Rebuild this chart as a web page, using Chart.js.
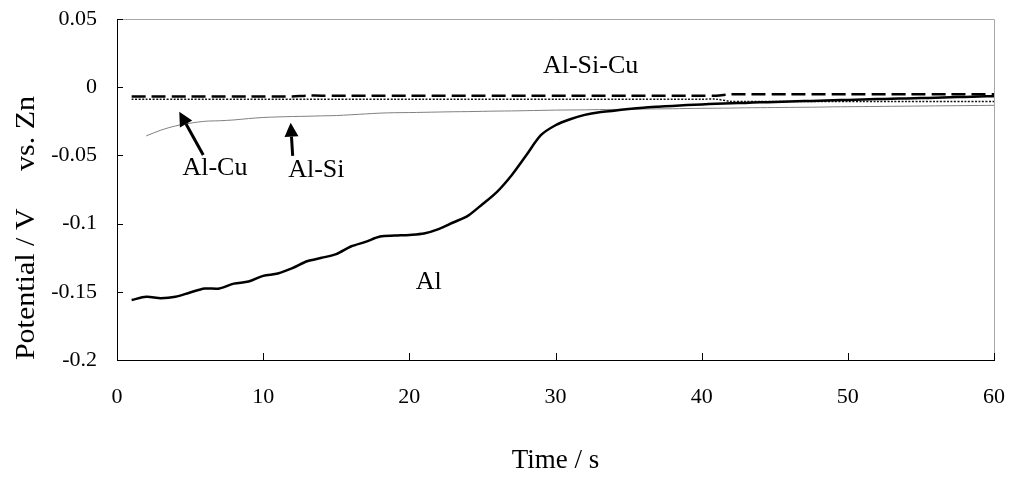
<!DOCTYPE html>
<html>
<head>
<meta charset="utf-8">
<script src="https://cdn.jsdelivr.net/npm/chart.js@4/dist/chart.umd.min.js"></script>
<style>
  html, body { margin: 0; padding: 0; background: #fff; }
  #wrap { width: 1014px; height: 478px; }
</style>
</head>
<body>
<div id="wrap"><canvas id="chartPotencial" width="1014" height="478"></canvas></div>
<script>
// tiempo (s)
const tiempos = [1,2,3,4,5,6,7,8,9,10,11,12,13,14,15,16,17,18,19,20,
  21,22,23,24,25,26,27,28,29,30,31,32,33,34,35,36,37,38,39,40,
  41,42,43,44,45,46,47,48,49,50,51,52,53,54,55,56,57,58,59,60];

// potencial (V vs. Zn) de cada aleación
const potAl = [-0.156,-0.1537,-0.1547,-0.1537,-0.1505,-0.1476,-0.1476,-0.144,-0.1425,-0.1383,
  -0.1366,-0.1327,-0.1276,-0.1251,-0.1224,-0.1168,-0.1134,-0.1095,-0.1088,-0.1083,
  -0.1073,-0.1041,-0.0992,-0.0943,-0.0858,-0.0767,-0.0645,-0.0499,-0.0352,-0.0279,
  -0.0235,-0.0203,-0.0183,-0.0172,-0.016,-0.015,-0.0143,-0.0137,-0.0131,-0.0126,
  -0.0122,-0.0118,-0.0115,-0.0111,-0.0108,-0.0105,-0.0102,-0.0099,-0.0096,-0.0093,
  -0.009,-0.0087,-0.0085,-0.0082,-0.008,-0.0077,-0.0074,-0.0071,-0.0068,-0.0066];

const potAlSi = [null,-0.0357,-0.0315,-0.0284,-0.0264,-0.025,-0.0246,-0.024,-0.023,-0.0222,
  -0.0218,-0.0215,-0.0213,-0.021,-0.0208,-0.0202,-0.0196,-0.019,-0.0187,-0.0186,
  -0.0184,-0.0182,-0.018,-0.0179,-0.0177,-0.0175,-0.0174,-0.0172,-0.017,-0.0168,
  -0.0167,-0.0166,-0.0164,-0.0163,-0.0162,-0.016,-0.0159,-0.0158,-0.0156,-0.0155,
  -0.0154,-0.0153,-0.0151,-0.015,-0.0149,-0.0148,-0.0147,-0.0146,-0.0144,-0.0143,
  -0.0142,-0.0141,-0.014,-0.0139,-0.0138,-0.0137,-0.0136,-0.0135,-0.0134,-0.0133];

const potAlCu = [-0.0088,-0.0088,-0.0088,-0.0088,-0.0088,-0.0088,-0.0088,-0.0088,-0.0088,-0.0088,
  -0.0088,-0.0088,-0.0088,-0.0088,-0.0088,-0.0088,-0.0088,-0.0088,-0.0088,-0.0088,
  -0.0088,-0.0088,-0.0088,-0.0088,-0.0088,-0.0088,-0.0088,-0.0088,-0.0088,-0.0088,
  -0.0088,-0.0088,-0.0088,-0.0088,-0.0088,-0.0088,-0.0088,-0.0088,-0.0088,-0.0088,
  -0.0088,-0.0104,-0.0104,-0.0104,-0.0104,-0.0104,-0.0104,-0.0104,-0.0104,-0.0104,
  -0.0104,-0.0104,-0.0104,-0.0104,-0.0104,-0.0104,-0.0104,-0.0104,-0.0104,-0.0104];

const potAlSiCu = [-0.0068,-0.0068,-0.0068,-0.0068,-0.0068,-0.0068,-0.0068,-0.0068,-0.0068,-0.0068,
  -0.0068,-0.0068,-0.0062,-0.0062,-0.0062,-0.0062,-0.0062,-0.0062,-0.0062,-0.0062,
  -0.0062,-0.0062,-0.0062,-0.0062,-0.0062,-0.0062,-0.0062,-0.0062,-0.0062,-0.0062,
  -0.0062,-0.0062,-0.0062,-0.0062,-0.0062,-0.0062,-0.0062,-0.0062,-0.0062,-0.0062,
  -0.0062,-0.0052,-0.0052,-0.0052,-0.0052,-0.0052,-0.0052,-0.0052,-0.0052,-0.0052,
  -0.0052,-0.0052,-0.0052,-0.0052,-0.0052,-0.0052,-0.0052,-0.0052,-0.0052,-0.0052];

// marcas de los ejes
const ticksX = [0, 10, 20, 30, 40, 50, 60];
const ticksY = [0.05, 0, -0.05, -0.1, -0.15, -0.2];
const etiquetasY = ['0.05', '0', '-0.05', '-0.1', '-0.15', '-0.2'];

// rótulos y flechas en coordenadas de datos (t, V)
const rotulos = [
  { texto: 'Al-Si-Cu', t: 32.4, v: 0.0106 },
  { texto: 'Al-Cu', t: 6.7, v: -0.0644 },
  { texto: 'Al-Si', t: 13.64, v: -0.0661 },
  { texto: 'Al', t: 21.33, v: -0.1482 }
];
const flechas = [
  { desde: [5.9, -0.0497], hasta: [4.26, -0.018] },
  { desde: [12.02, -0.0504], hasta: [11.88, -0.026] }
];

const FUENTE = '"Liberation Serif", "Times New Roman", serif';

function serie(valores) {
  return tiempos.map((t, i) => ({ x: t, y: valores[i] }));
}

// Marco gris, marcas interiores, rótulos, flechas y título vertical
const decoracion = {
  id: 'decoracion',
  afterDatasetsDraw(chart) {
    const ctx = chart.ctx;
    const a = chart.chartArea;
    const sx = chart.scales.x;
    const sy = chart.scales.y;
    ctx.save();

    // borde superior y derecho
    ctx.strokeStyle = '#a8a8a8';
    ctx.lineWidth = 1;
    ctx.beginPath();
    ctx.moveTo(a.left, a.top + 0.5);
    ctx.lineTo(a.right + 0.5, a.top + 0.5);
    ctx.lineTo(a.right + 0.5, a.bottom);
    ctx.stroke();

    // marcas hacia dentro
    ctx.strokeStyle = '#000';
    ctx.beginPath();
    ticksY.forEach(v => {
      const y = Math.round(sy.getPixelForValue(v)) + 0.5;
      ctx.moveTo(a.left, y);
      ctx.lineTo(a.left + 6, y);
    });
    ticksX.forEach(t => {
      const x = Math.round(sx.getPixelForValue(t)) + 0.5;
      ctx.moveTo(x, a.bottom);
      ctx.lineTo(x, a.bottom - 7);
    });
    ctx.stroke();

    // flechas
    flechas.forEach(f => {
      const x0 = sx.getPixelForValue(f.desde[0]);
      const y0 = sy.getPixelForValue(f.desde[1]);
      const x1 = sx.getPixelForValue(f.hasta[0]);
      const y1 = sy.getPixelForValue(f.hasta[1]);
      const ang = Math.atan2(y1 - y0, x1 - x0);
      const largo = 14, ancho = 7;
      const bx = x1 - largo * Math.cos(ang);
      const by = y1 - largo * Math.sin(ang);
      ctx.strokeStyle = '#000';
      ctx.lineWidth = 3;
      ctx.beginPath();
      ctx.moveTo(x0, y0);
      ctx.lineTo(bx, by);
      ctx.stroke();
      ctx.fillStyle = '#000';
      ctx.beginPath();
      ctx.moveTo(x1, y1);
      ctx.lineTo(bx + ancho * Math.sin(ang), by - ancho * Math.cos(ang));
      ctx.lineTo(bx - ancho * Math.sin(ang), by + ancho * Math.cos(ang));
      ctx.closePath();
      ctx.fill();
    });

    // rótulos de cada curva
    ctx.fillStyle = '#000';
    ctx.font = '26px ' + FUENTE;
    ctx.textAlign = 'center';
    ctx.textBaseline = 'alphabetic';
    rotulos.forEach(r => {
      ctx.fillText(r.texto, sx.getPixelForValue(r.t), sy.getPixelForValue(r.v));
    });

    // título del eje vertical
    ctx.font = '30px ' + FUENTE;
    ctx.translate(34, 228);
    ctx.rotate(-Math.PI / 2);
    ctx.scale(1, 0.9);
    ctx.textAlign = 'center';
    ctx.fillText('Potential / V\u00a0\u00a0\u00a0\u00a0 vs. Zn', 0, 0);
    ctx.restore();
  }
};

const ctx = document.getElementById('chartPotencial');
new Chart(ctx, {
  type: 'line',
  data: {
    datasets: [
      { label: 'Al-Si', data: serie(potAlSi), borderColor: '#808080', borderWidth: 1, order: 4 },
      { label: 'Al-Cu', data: serie(potAlCu), borderColor: '#111', borderWidth: 1.5, borderDash: [2, 1.5], order: 3 },
      { label: 'Al-Si-Cu', data: serie(potAlSiCu), borderColor: '#000', borderWidth: 2.5, borderDash: [14, 6], order: 2 },
      { label: 'Al', data: serie(potAl), borderColor: '#000', borderWidth: 2.5, order: 1 }
    ]
  },
  options: {
    responsive: false,
    animation: false,
    devicePixelRatio: 1,
    layout: { padding: { top: 19, right: 20, left: 0, bottom: 0 } },
    elements: {
      point: { radius: 0 },
      line: { tension: 0.3, fill: false, borderCapStyle: 'butt' }
    },
    plugins: {
      legend: { display: false },
      tooltip: { enabled: false }
    },
    scales: {
      x: {
        type: 'linear',
        min: 0,
        max: 60,
        afterBuildTicks: s => { s.ticks = ticksX.map(v => ({ value: v })); },
        afterFit: s => { s.height = 118; s.paddingLeft = 0; s.paddingRight = 0; },
        grid: { display: false, drawTicks: false },
        border: { color: '#000', width: 1 },
        ticks: { color: '#000', padding: 24, font: { family: FUENTE, size: 22 } },
        title: {
          display: true,
          text: 'Time / s',
          color: '#000',
          padding: { top: 42, bottom: 1 },
          font: { family: FUENTE, size: 27 }
        }
      },
      y: {
        min: -0.2,
        max: 0.05,
        afterBuildTicks: s => { s.ticks = ticksY.map(v => ({ value: v })); },
        afterFit: s => { s.width = 117; s.paddingTop = 0; s.paddingBottom = 0; },
        grid: { display: false, drawTicks: false },
        border: { color: '#000', width: 1 },
        ticks: {
          color: '#000',
          padding: 20,
          font: { family: FUENTE, size: 22 },
          callback: v => {
            const i = ticksY.findIndex(t => Math.abs(t - v) < 1e-9);
            return i >= 0 ? etiquetasY[i] : '';
          }
        }
      }
    }
  },
  plugins: [decoracion]
});
</script>
</body>
</html>
